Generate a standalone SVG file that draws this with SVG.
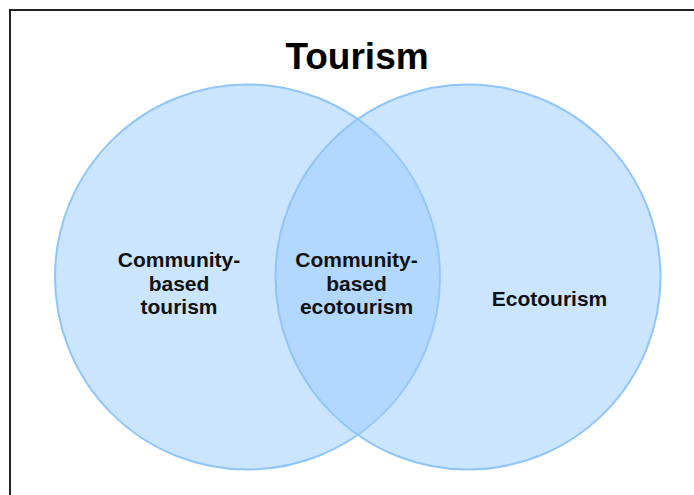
<svg xmlns="http://www.w3.org/2000/svg" width="694" height="495" viewBox="0 0 694 495">
<style>
.set{fill:#99ccff;fill-opacity:0.5;stroke:#8ec5fa;stroke-width:2}
.lbl{font-family:"Liberation Sans",Arial,sans-serif;font-weight:bold;font-size:21px;fill:#111;text-anchor:middle}
.title{font-family:"Liberation Sans",Arial,sans-serif;font-weight:bold;font-size:37px;fill:#000;text-anchor:middle}
</style>
<rect x="0" y="0" width="694" height="495" fill="#fff"/>
<rect x="10" y="10" width="700" height="500" fill="none" stroke="#222" stroke-width="2"/>
<text class="title" x="357" y="69">Tourism</text>
<g id="set-community">
<circle class="set" cx="247.5" cy="277" r="192.5"/>
</g>
<g id="set-eco">
<circle class="set" cx="468" cy="277" r="192.5"/>
</g>
<g id="connectors"></g>
<g id="label-community">
<text class="lbl" x="179" y="267">Community-</text>
<text class="lbl" x="179" y="290.5">based</text>
<text class="lbl" x="179" y="314">tourism</text>
</g>
<g id="label-overlap">
<text class="lbl" x="356.5" y="267">Community-</text>
<text class="lbl" x="356.5" y="290.5">based</text>
<text class="lbl" x="356.5" y="314">ecotourism</text>
</g>
<g id="label-eco">
<text class="lbl" x="549.5" y="305.5">Ecotourism</text>
</g>
</svg>
